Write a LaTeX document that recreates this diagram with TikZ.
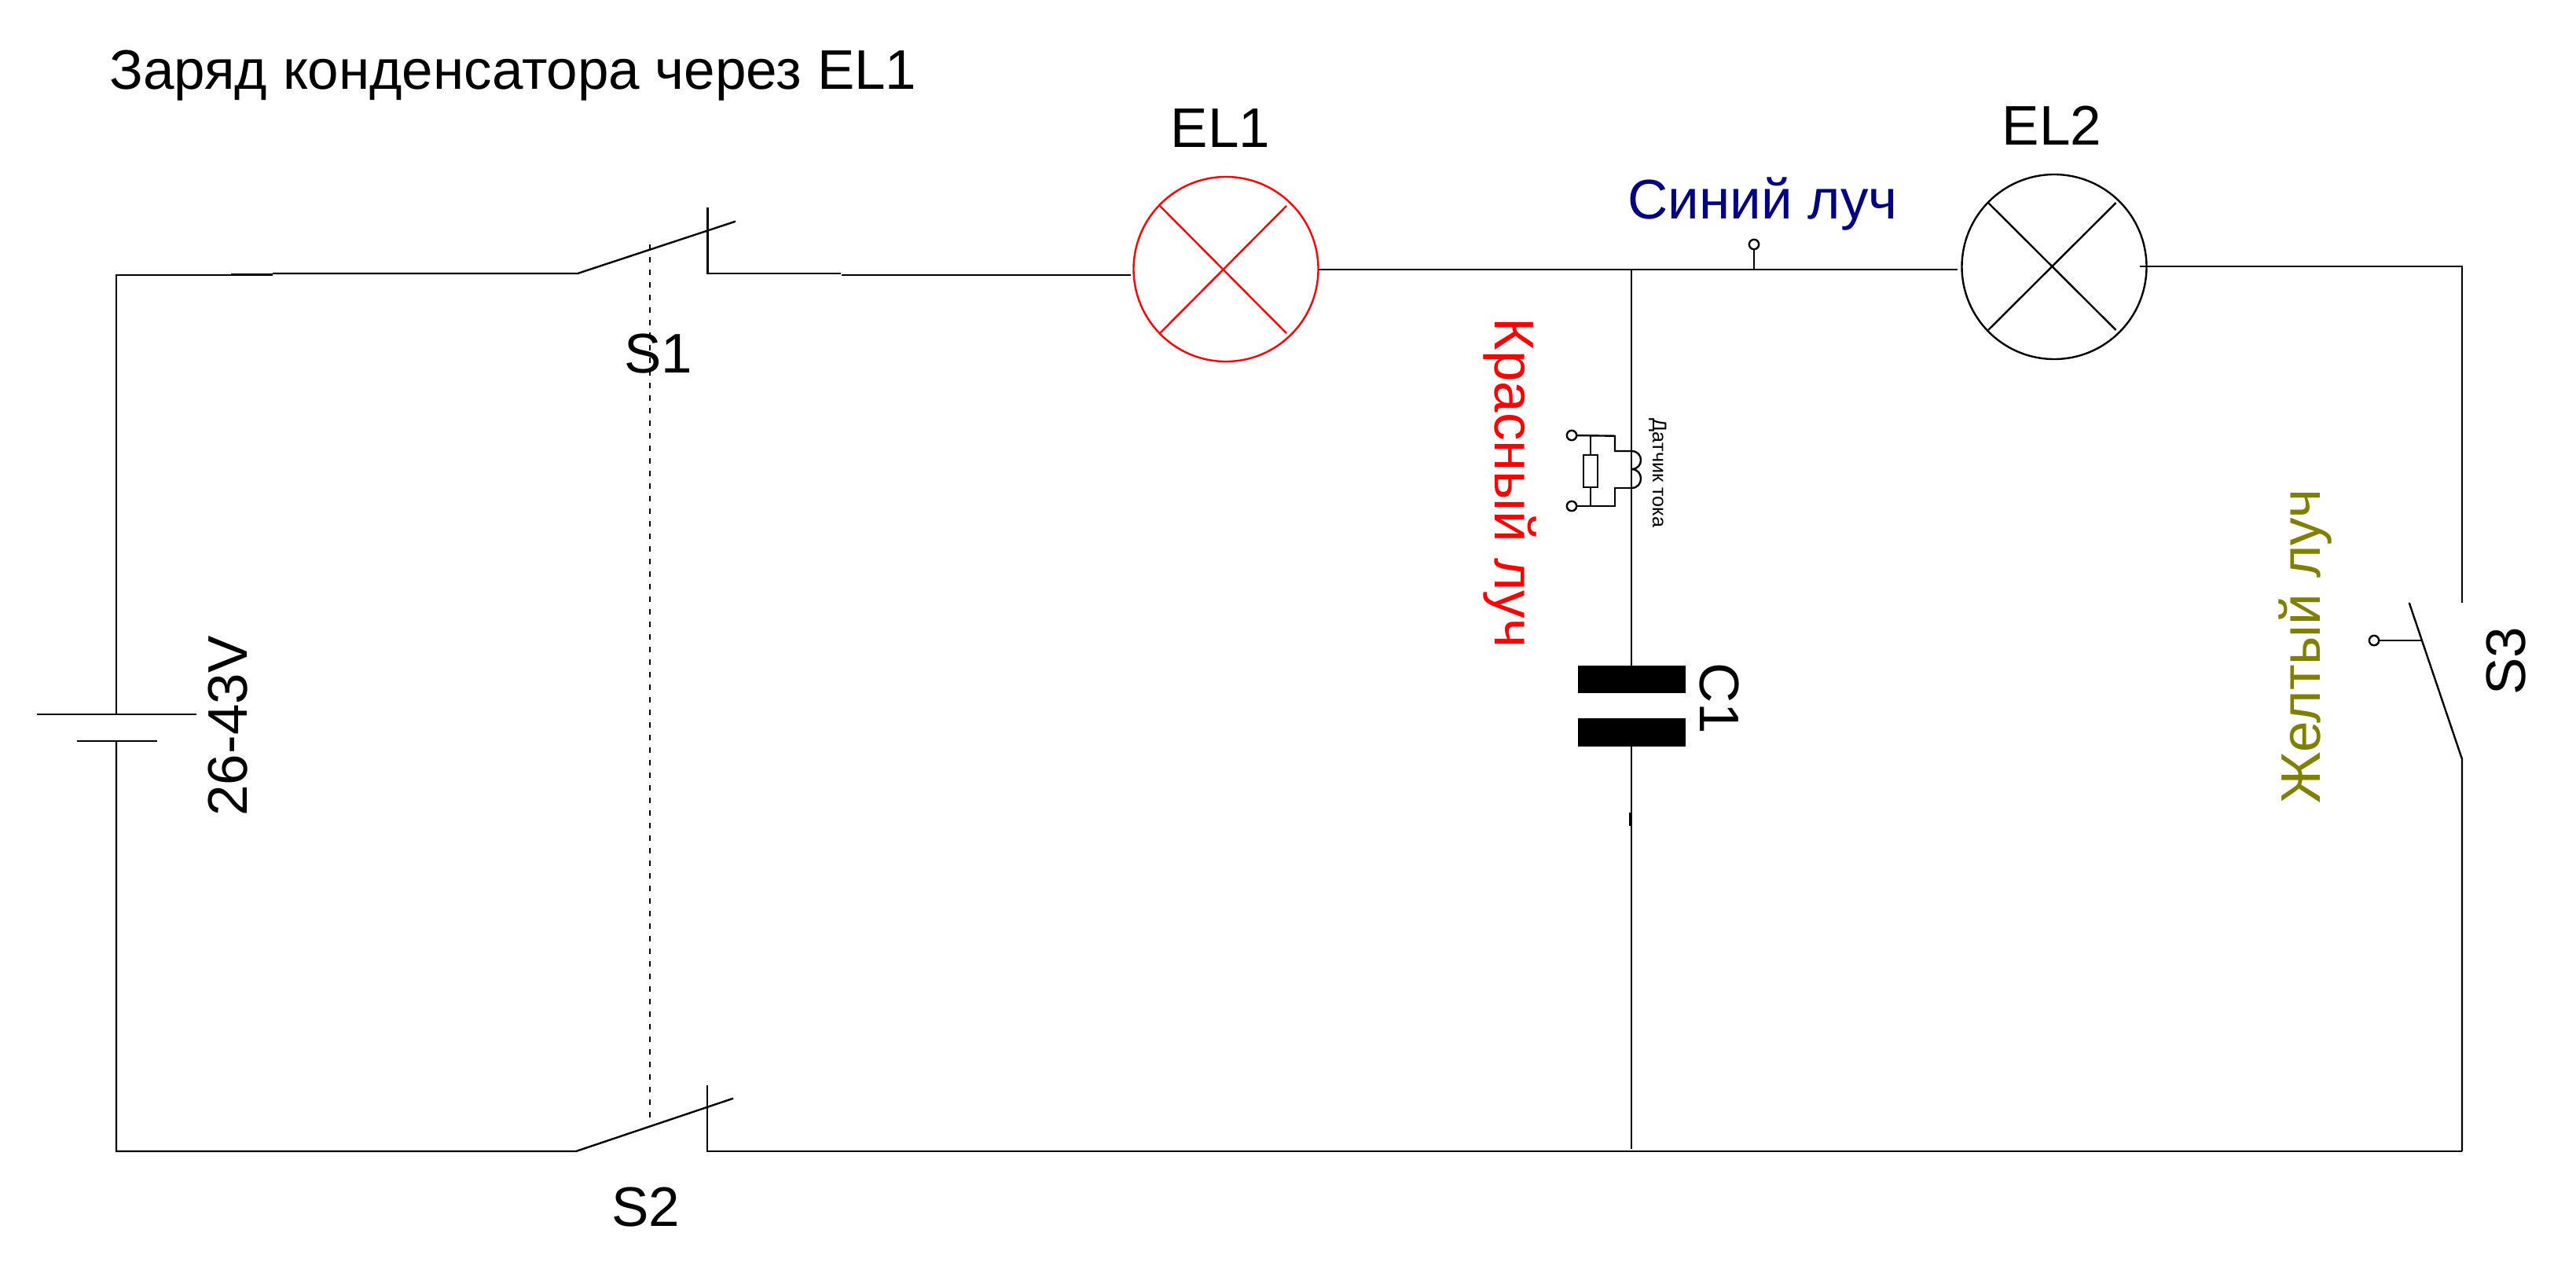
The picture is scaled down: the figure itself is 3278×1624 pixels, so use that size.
\documentclass[tikz,border=0pt]{standalone}
\usepackage{fontspec}
\setmainfont{Liberation Sans}
\usetikzlibrary{shapes.geometric}
\definecolor{bluelabel}{RGB}{0,0,128}
\definecolor{yellowlabel}{RGB}{128,128,0}
\tikzset{
  wire/.style={line width=1.2pt,line cap=butt,line join=miter},
  heavywire/.style={line width=1.8pt},
  linkdash/.style={line width=1.2pt,dash pattern=on 3.6pt off 4.4pt},
  lbl/.style={inner sep=0pt,outer sep=0pt,anchor=base,font=\fontsize{35.5}{40}\selectfont},
  smalllbl/.style={lbl,font=\fontsize{12.6}{15}\selectfont},
  lamp/.style={draw,ellipse,line width=1.2pt,inner sep=0pt,outer sep=0pt,minimum width=117.5pt,minimum height=117.5pt},
  plate/.style={fill=black,inner sep=0pt,outer sep=0pt,minimum width=68.5pt,minimum height=17.8pt},
  terminal/.style={draw,circle,line width=1.2pt,fill=white,inner sep=0pt,outer sep=0pt,minimum size=6.2pt},
  resbox/.style={draw,rectangle,line width=1.2pt,inner sep=0pt,outer sep=0pt,minimum width=9pt,minimum height=20.5pt}
}
\begin{document}
\begin{tikzpicture}[x=0.5pt,y=-0.5pt]
\useasboundingbox (0,0) rectangle (3278,1624);
\fill[white] (0,0) rectangle (3278,1624);

% coordinates
\coordinate (tl) at (148,350);
\coordinate (tla) at (294,350);
\coordinate (tlb) at (294,349.5);
\coordinate (tlc) at (347,349.5);
\coordinate (tld) at (347,348);
\coordinate (sa) at (735,348);
\coordinate (sb) at (936,281.7);
\coordinate (sctop) at (900.5,264);
\coordinate (scbot) at (900.5,348);
\coordinate (wa) at (1070,348);
\coordinate (wb) at (1071,349.7);
\coordinate (wc) at (1439,349.7);
\coordinate (we) at (1678,342.7);
\coordinate (wf) at (2490.7,342.7);
\coordinate (jc) at (2076,342.7);
\coordinate (jp) at (2232,342.7);
\coordinate (wg) at (2722.7,339);
\coordinate (wh) at (3133,339);
\coordinate (wi) at (3133,767);
\coordinate (sd) at (3133,966);
\coordinate (se) at (3065.7,767);
\coordinate (sf) at (3081.7,815);
\coordinate (br) at (3133,1465);
\coordinate (s2c) at (900,1465);
\coordinate (s2t) at (900,1381);
\coordinate (s2a) at (733,1465);
\coordinate (s2b) at (933,1397.7);
\coordinate (bl) at (148,1465);
\coordinate (bu) at (148,908.7);
\coordinate (bd) at (148,943);
\coordinate (bua) at (47,908.7);
\coordinate (bub) at (250,908.7);
\coordinate (bda) at (98,943);
\coordinate (bdb) at (200,943);
\coordinate (dt) at (826.8,310.7);
\coordinate (db) at (826.8,1422.7);
\coordinate (jb) at (2076,1462);
\coordinate (capt) at (2076,850);
\coordinate (capb) at (2076,945);
\coordinate (tka) at (2075,1034);
\coordinate (tkb) at (2075,1051);
% current sensor
\coordinate (ca) at (2006,554.7);
\coordinate (cb) at (2055,554.7);
\coordinate (cc) at (2055,574);
\coordinate (cd) at (2076,574);
\coordinate (ce) at (2076,597);
\coordinate (cf) at (2076,621);
\coordinate (cg) at (2055,621);
\coordinate (ch) at (2055,644);
\coordinate (ci) at (2006,644);
\coordinate (rt) at (2024,554.7);
\coordinate (rb) at (2024,644);

% lamps
\node[lamp,draw=red] (el1) at (1560,342.5) {};
\node[lamp] (el2) at (2614,339.5) {};
\coordinate (xa) at (1476,262); \coordinate (xb) at (1637,424);
\coordinate (xc) at (1476,424); \coordinate (xd) at (1637,262);
\coordinate (ya) at (2530,258); \coordinate (yb) at (2692.6,420);
\coordinate (yc) at (2530,420); \coordinate (yd) at (2692.6,258);
\draw[wire,red] (xa) -- (xb) (xc) -- (xd);
\draw[wire] (ya) -- (yb) (yc) -- (yd);

% main wiring
\draw[wire] (bu) -- (tl) -- (tla);
\draw[heavywire] (tlb) -- (tlc);
\draw[wire] (tld) -- (sa) -- (sb);
\draw[wire] (sctop) -- (scbot) -- (wa);
\draw[wire] (wb) -- (wc);
\draw[wire] (we) -- (wf);
\draw[wire] (wg) -- (wh) -- (wi);
\draw[wire] (br) -- (sd) -- (se);
\draw[wire] (bd) -- (bl) -- (s2a) -- (s2b);
\draw[wire] (s2t) -- (s2c) -- (br);
\draw[wire] (bua) -- (bub);
\draw[wire] (bda) -- (bdb);
\draw[linkdash] (dt) -- (db);
\draw[wire] (jc) -- (capt);
\draw[wire] (capb) -- (jb);
\draw[heavywire] (tka) -- (tkb);

% capacitor
\node[plate] (cp1) at (2076.5,864.3) {};
\node[plate] (cp2) at (2076.5,932) {};

% probe terminals
\node[terminal] (tb) at (2232,311) {};
\draw[wire] (tb) -- (jp);
\node[terminal] (ty) at (3021,815) {};
\draw[wire] (ty) -- (sf);

% current sensor
\node[terminal] (t1) at (2000,554) {};
\node[terminal] (t2) at (2000,644) {};
\node[resbox] (rs) at (2024,599.5) {};
\draw[wire] (t1) -- (cb) -- (cc) -- (cd);
\draw[wire] (t2) -- (ch) -- (cg) -- (cf);
\draw[wire] (rt) -- (rs);
\draw[wire] (rs) -- (rb);
\draw[wire] (cd) .. controls +(16,0) and +(16,0) .. (ce);
\draw[wire] (ce) .. controls +(16,0) and +(16,0) .. (cf);

% labels
\node[lbl] (title) at (653,113) {Заряд конденсатора через EL1};
\node[lbl] (lel1) at (1553,187) {EL1};
\node[lbl] (lel2) at (2611,184) {EL2};
\node[lbl] (ls1) at (838,474) {S1};
\node[lbl] (ls2) at (822,1560) {S2};
\node[lbl,rotate=90] (ls3) at (3213,841) {S3};
\node[lbl,rotate=90] (lv) at (314,924) {26-43V};
\node[lbl,rotate=90,text=yellowlabel] (ly) at (2952,822) {Желтый луч};
\node[lbl,rotate=-90,text=red] (lr) at (1902,614.5) {Красный луч};
\node[lbl,rotate=-90] (lc) at (2163,889) {C1};
\node[smalllbl,rotate=-90] (ld) at (2103,602) {Датчик тока};
\node[lbl,text=bluelabel] (lb) at (2243,278) {Синий луч};
\end{tikzpicture}
\end{document}
